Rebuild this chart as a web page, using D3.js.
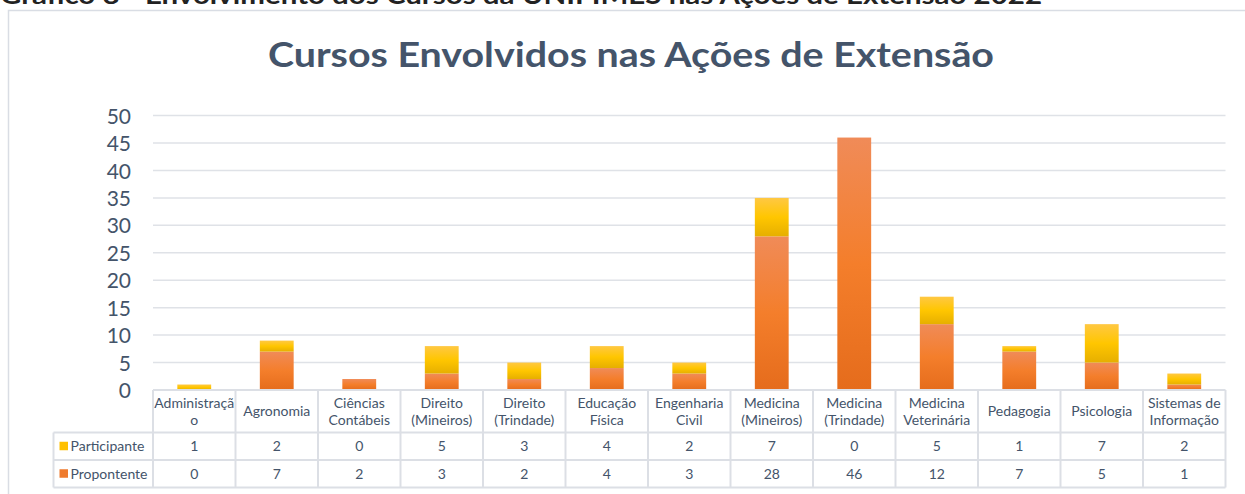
<!DOCTYPE html>
<html>
<head>
<meta charset="utf-8">
<script src="https://cdn.jsdelivr.net/npm/d3@7"></script>
<style>
  html, body { margin: 0; padding: 0; background: #fff; }
  svg { display: block; font-family: Lato, "Open Sans", sans-serif; }
</style>
</head>
<body>
<svg id="chart" width="1245" height="494"></svg>
<script>
const categories = [
  ["Administraçã", "o"], ["Agronomia"], ["Ciências", "Contábeis"], ["Direito", "(Mineiros)"],
  ["Direito", "(Trindade)"], ["Educação", "Física"], ["Engenharia", "Civil"], ["Medicina", "(Mineiros)"],
  ["Medicina", "(Trindade)"], ["Medicina", "Veterinária"], ["Pedagogia"], ["Psicologia"],
  ["Sistemas de", "Informação"]
];
const participante = [1, 2, 0, 5, 3, 4, 2, 7, 0, 5, 1, 7, 2];
const propontente = [0, 7, 2, 3, 2, 4, 3, 28, 46, 12, 7, 5, 1];
const yTicks = [0, 5, 10, 15, 20, 25, 30, 35, 40, 45, 50];

const textColor = "#44546a";
const gridColor = "#dfe2e7";
const tableColor = "#dcdfe5";

const svg = d3.select("#chart");
const keys = categories.map((c, i) => i);

const plot = { left: 153, right: 1225.5, top: 115.6, bottom: 390 };

const x = d3.scaleBand()
  .domain(keys)
  .range([plot.left, plot.right])
  .paddingInner(0.59)
  .paddingOuter(0.295);
const col = d3.scaleBand().domain(keys).range([plot.left, plot.right]);
const y = d3.scaleLinear().domain([0, 50]).range([plot.bottom, plot.top]);

// gradients
const defs = svg.append("defs");
function grad(id, stops) {
  const g = defs.append("linearGradient").attr("id", id)
    .attr("x1", 0).attr("y1", 0).attr("x2", 0).attr("y2", 1);
  stops.forEach(([o, c]) => g.append("stop").attr("offset", o).attr("stop-color", c));
}
grad("gradOrange", [[0, "#f08b58"], [0.5, "#f47e2b"], [1, "#e56c1c"]]);
grad("gradYellow", [[0, "#ffc843"], [0.5, "#ffc600"], [1, "#e6af00"]]);

// page header (cut off at top)
svg.append("text")
  .attr("x", 0).attr("y", 4)
  .attr("font-size", 24).attr("font-weight", "bold").attr("fill", "#222")
  .attr("textLength", 1042).attr("lengthAdjust", "spacingAndGlyphs")
  .text("Gráfico 8 - Envolvimento dos Cursos da UNIFIMES nas Ações de Extensão 2022");

// chart frame
svg.append("rect")
  .attr("x", 8.5).attr("y", 10.5).attr("width", 1260).attr("height", 500)
  .attr("fill", "#fff").attr("stroke", "#d9dde4").attr("stroke-width", 1.5);

// title
svg.append("text")
  .attr("x", 631).attr("y", 67)
  .attr("text-anchor", "middle")
  .attr("font-size", 35).attr("font-weight", "bold").attr("fill", textColor)
  .attr("textLength", 726).attr("lengthAdjust", "spacingAndGlyphs")
  .text("Cursos Envolvidos nas Ações de Extensão");

// gridlines
svg.append("g")
  .selectAll("line")
  .data(yTicks.filter((t) => t > 0))
  .join("line")
  .attr("x1", plot.left).attr("x2", plot.right)
  .attr("y1", (d) => y(d)).attr("y2", (d) => y(d))
  .attr("stroke", gridColor).attr("stroke-width", 1.5);

// y axis labels
const yAxis = svg.append("g")
  .attr("transform", `translate(${plot.left - 22},0)`)
  .call(d3.axisLeft(y).tickValues(yTicks).tickSize(0).tickPadding(0));
yAxis.select(".domain").remove();
yAxis.selectAll("text")
  .attr("font-size", 21).attr("fill", textColor)
  .attr("font-family", "Lato, 'Open Sans', sans-serif")
  .attr("dy", "0.36em");

// stacked bars
const rows = keys.map((i) => ({ i, propontente: propontente[i], participante: participante[i] }));
const stack = d3.stack().keys(["propontente", "participante"])(rows);
const fills = { propontente: "url(#gradOrange)", participante: "url(#gradYellow)" };

svg.append("g")
  .selectAll("g")
  .data(stack)
  .join("g")
  .attr("fill", (s) => fills[s.key])
  .selectAll("rect")
  .data((s) => s)
  .join("rect")
  .attr("x", (d) => x(d.data.i))
  .attr("width", x.bandwidth())
  .attr("y", (d) => y(d[1]))
  .attr("height", (d) => y(d[0]) - y(d[1]));

// data table
const table = { header: 390, row1: 432.5, row2: 460, bottom: 487.5, legendLeft: 53.5 };
const tg = svg.append("g").attr("stroke", tableColor).attr("stroke-width", 2).attr("fill", "none");

// horizontal lines
tg.append("line").attr("x1", plot.left).attr("x2", plot.right).attr("y1", table.header).attr("y2", table.header);
[table.row1, table.row2, table.bottom].forEach((yy) => {
  tg.append("line").attr("x1", table.legendLeft).attr("x2", plot.right).attr("y1", yy).attr("y2", yy);
});
// vertical lines
tg.append("line").attr("x1", table.legendLeft).attr("x2", table.legendLeft).attr("y1", table.row1).attr("y2", table.bottom);
keys.concat([keys.length]).forEach((i) => {
  const xx = i < keys.length ? col(i) : plot.right;
  tg.append("line").attr("x1", xx).attr("x2", xx).attr("y1", table.header).attr("y2", table.bottom);
});

const cellFont = 14;
// category labels
const catText = svg.append("g")
  .attr("font-size", cellFont).attr("fill", textColor).attr("text-anchor", "middle")
  .selectAll("text")
  .data(keys)
  .join("text")
  .attr("x", (i) => col(i) + col.bandwidth() / 2);
catText.each(function (i) {
  const lines = categories[i];
  const mid = (table.header + table.row1) / 2;
  const start = mid - ((lines.length - 1) * 17.5) / 2 + 5;
  d3.select(this).selectAll("tspan")
    .data(lines)
    .join("tspan")
    .attr("x", col(i) + col.bandwidth() / 2)
    .attr("y", (d, k) => start + k * 17.5)
    .text((d) => d);
});

// value rows
const series = [
  { name: "Participante", values: participante, top: table.row1, bottom: table.row2, color: "#ffc000" },
  { name: "Propontente", values: propontente, top: table.row2, bottom: table.bottom, color: "#ef7b2e" },
];
series.forEach((s) => {
  const cy = (s.top + s.bottom) / 2;
  const g = svg.append("g").attr("font-size", cellFont).attr("fill", textColor);
  g.append("rect")
    .attr("x", 59.5).attr("y", cy - 4.5).attr("width", 8.5).attr("height", 8.5)
    .attr("fill", s.color);
  g.append("text").attr("x", 70.5).attr("y", cy + 5).text(s.name);
  g.selectAll("text.v")
    .data(s.values)
    .join("text")
    .attr("class", "v")
    .attr("text-anchor", "middle")
    .attr("x", (d, i) => col(i) + col.bandwidth() / 2)
    .attr("y", cy + 5)
    .text((d) => d);
});
</script>
</body>
</html>
